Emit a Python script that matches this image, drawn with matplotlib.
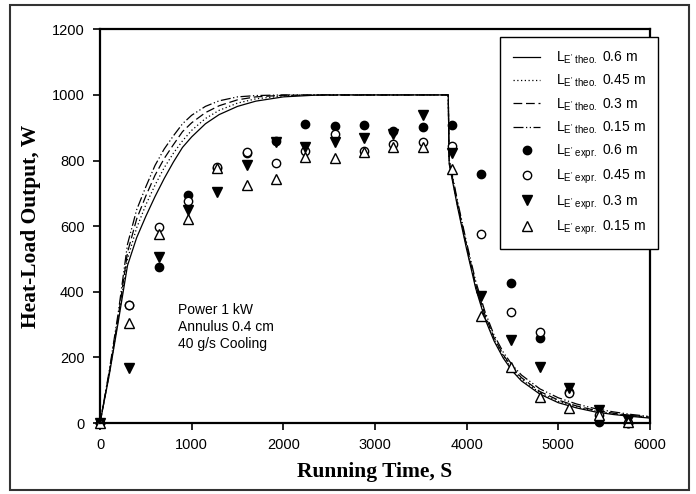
import matplotlib
matplotlib.use("Agg")
import matplotlib.pyplot as plt
from matplotlib.patches import Rectangle

plt.rcParams['font.family'] = ['Liberation Sans', 'DejaVu Sans']
plt.rcParams['mathtext.fontset'] = 'custom'
plt.rcParams['mathtext.rm'] = 'Liberation Sans'
plt.rcParams['mathtext.it'] = 'Liberation Sans:italic'

# theoretical curves (time, W)
t_06 = [0, 100, 200, 300, 400, 500, 600, 700, 800, 900, 1000, 1150, 1300, 1500, 1700, 2000, 2400, 3800,
        3810, 3900, 4000, 4100, 4200, 4300, 4400, 4500, 4600, 4800, 5000, 5200, 5400, 5600, 5800, 6000]
q_06 = [0, 145, 310, 480, 565, 630, 690, 745, 795, 840, 872, 912, 940, 965, 981, 994, 1000, 1000,
        790, 660, 530, 410, 318, 250, 198, 158, 128, 88, 62, 46, 34, 26, 20, 15]

t_045 = [0, 100, 200, 300, 400, 500, 600, 700, 800, 900, 1000, 1150, 1300, 1500, 1700, 2000, 2300, 3800,
         3810, 3900, 4000, 4100, 4200, 4300, 4400, 4500, 4600, 4800, 5000, 5200, 5400, 5600, 5800, 6000]
q_045 = [0, 148, 318, 500, 595, 665, 725, 778, 822, 860, 892, 928, 953, 975, 988, 997, 1000, 1000,
         795, 665, 536, 416, 324, 255, 203, 163, 133, 92, 66, 49, 37, 28, 22, 17]

t_03 = [0, 100, 200, 300, 400, 500, 600, 700, 800, 900, 1000, 1150, 1300, 1500, 1700, 2000, 3800,
        3810, 3900, 4000, 4100, 4200, 4300, 4400, 4500, 4600, 4800, 5000, 5200, 5400, 5600, 5800, 6000]
q_03 = [0, 152, 326, 520, 622, 692, 755, 806, 848, 888, 915, 946, 967, 985, 994, 999, 1000,
        800, 670, 542, 422, 330, 260, 208, 168, 138, 96, 70, 52, 39, 30, 23, 18]

t_015 = [0, 100, 200, 300, 400, 500, 600, 700, 800, 900, 1000, 1150, 1300, 1500, 1700, 2000, 3800,
         3810, 3900, 4000, 4100, 4200, 4300, 4400, 4500, 4600, 4800, 5000, 5200, 5400, 5600, 5800, 6000]
q_015 = [0, 158, 338, 545, 650, 720, 785, 835, 875, 912, 938, 965, 982, 994, 998, 1000, 1000,
         805, 678, 550, 432, 340, 268, 216, 176, 146, 104, 77, 58, 44, 34, 26, 20]

# experimental points
t_exp = [0, 320, 640, 960, 1280, 1600, 1920, 2240, 2560, 2880, 3200, 3520, 3840,
         4160, 4480, 4800, 5120, 5440, 5760]
e_06 = [0, 359, 476, 694, 778, 822, 860, 911, 905, 908, 890, 903, 908,
        758, 426, 259, 95, 4, 0]
e_045 = [0, 359, 596, 677, 780, 825, 793, 828, 880, 830, 850, 857, 843,
         576, 338, 278, 91, 24, 0]
e_03 = [0, 167, 507, 650, 705, 786, 855, 842, 857, 870, 882, 938, 823,
        388, 253, 170, 107, 40, 10]
e_015 = [0, 305, 575, 623, 777, 725, 745, 810, 809, 826, 842, 842, 774,
         326, 171, 80, 46, 25, 4]

fig = plt.figure(figsize=(6.96, 4.94), dpi=100)
ax = fig.add_axes([0.1437, 0.1437, 0.79, 0.797])

lw = 0.9
ax.plot(t_06, q_06, color='black', lw=lw, ls='-', label=r'L$_{\rm E^{\prime}\ theo.}$ 0.6 m')
ax.plot(t_045, q_045, color='black', lw=lw, ls=(0, (1, 2)), label=r'L$_{\rm E^{\prime}\ theo.}$ 0.45 m')
ax.plot(t_03, q_03, color='black', lw=lw, ls=(0, (7, 3)), label=r'L$_{\rm E^{\prime}\ theo.}$ 0.3 m')
ax.plot(t_015, q_015, color='black', lw=lw, ls=(0, (8, 2, 1, 2, 1, 2)), label=r'L$_{\rm E^{\prime}\ theo.}$ 0.15 m')

ms = 6
ax.plot(t_exp, e_06, 'o', color='black', ms=ms, ls='none', clip_on=False,
        label=r'L$_{\rm E^{\prime}\ expr.}$ 0.6 m')
ax.plot(t_exp, e_045, 'o', mfc='white', mec='black', mew=1, ms=ms, ls='none', clip_on=False,
        label=r'L$_{\rm E^{\prime}\ expr.}$ 0.45 m')
ax.plot(t_exp, e_03, 'v', color='black', ms=ms + 1, ls='none', clip_on=False,
        label=r'L$_{\rm E^{\prime}\ expr.}$ 0.3 m')
ax.plot(t_exp, e_015, '^', mfc='white', mec='black', mew=1, ms=ms + 1, ls='none', clip_on=False,
        label=r'L$_{\rm E^{\prime}\ expr.}$ 0.15 m')

ax.set_xlim(0, 6000)
ax.set_ylim(0, 1200)
ax.set_xticks(range(0, 6001, 1000))
ax.set_yticks(range(0, 1201, 200))
ax.tick_params(direction='out', length=5, width=1.2, labelsize=10.5, pad=6)
for s in ax.spines.values():
    s.set_linewidth(1.6)

ax.set_xlabel('Running Time, S', family='Liberation Serif', fontweight='bold', fontsize=15.5)
ax.set_ylabel('Heat-Load Output, W', family='Liberation Serif', fontweight='bold', fontsize=15.5)
ax.xaxis.set_label_coords(0.5, -0.1)
ax.yaxis.set_label_coords(-0.108, 0.5)

ax.text(850, 365, 'Power 1 kW\nAnnulus 0.4 cm\n40 g/s Cooling', fontsize=10,
        va='top', ha='left', linespacing=1.25)

fig.legend(loc='upper right', bbox_to_anchor=(658 / 696, 457 / 494), fontsize=10,
           frameon=True, fancybox=False, edgecolor='black', framealpha=1,
           numpoints=1, handlelength=2.0, handletextpad=1.1, borderpad=0.9,
           labelspacing=0.5, borderaxespad=0)
fig.legends[0].get_frame().set_linewidth(1.0)

fig.patches.append(Rectangle((10 / 696, 4 / 494), 679 / 696, 485 / 494, transform=fig.transFigure,
                             fill=False, edgecolor='#333333', lw=1.5))

fig.savefig('out.png', dpi=100)
